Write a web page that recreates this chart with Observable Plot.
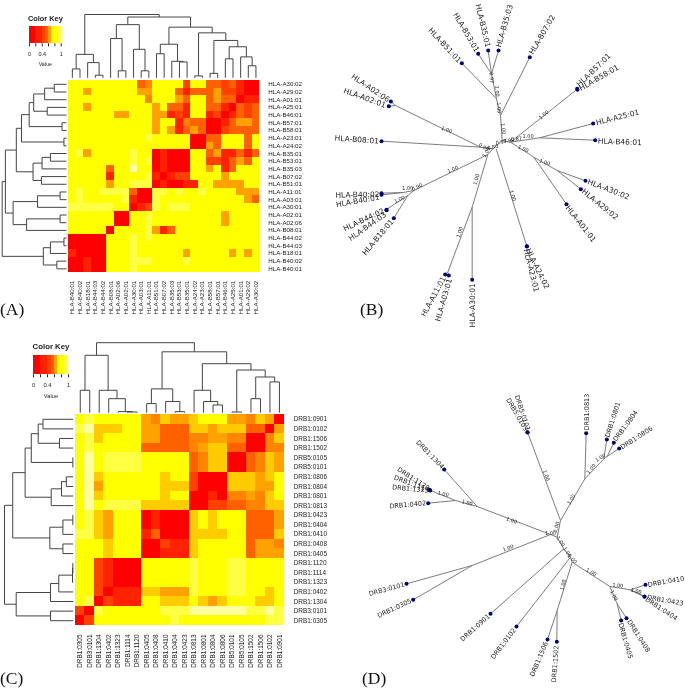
<!DOCTYPE html>
<html><head><meta charset="utf-8">
<script src="https://cdn.jsdelivr.net/npm/d3@7"></script>
<script src="https://cdn.jsdelivr.net/npm/@observablehq/plot@0.6"></script>
<style>
html,body{margin:0;padding:0;background:#fff}
#page{position:relative;width:685px;height:689px;overflow:hidden;filter:blur(.35px)}
#page>*{position:absolute}
#page svg{overflow:visible;background:transparent}
.tag{font-family:"Liberation Serif",serif;font-size:17.5px;color:#111;line-height:20px}
</style></head><body><div id="page"></div>
<script>
// ---------- panel A ----------
const rowsA=["HLA-A30:02","HLA-A29:02","HLA-A01:01","HLA-A25:01","HLA-B46:01","HLA-B57:01","HLA-B58:01","HLA-A23:01","HLA-A24:02","HLA-B35:01","HLA-B53:01","HLA-B35:03","HLA-B07:02","HLA-B51:01","HLA-A11:01","HLA-A03:01","HLA-A30:01","HLA-A02:01","HLA-A02:06","HLA-B08:01","HLA-B44:02","HLA-B44:03","HLA-B18:01","HLA-B40:02","HLA-B40:01"];
const colsA=["HLA-B40:01","HLA-B40:02","HLA-B18:01","HLA-B44:03","HLA-B44:02","HLA-B08:01","HLA-A02:06","HLA-A02:01","HLA-A30:01","HLA-A03:01","HLA-A11:01","HLA-B51:01","HLA-B07:02","HLA-B35:03","HLA-B53:01","HLA-B35:01","HLA-A24:02","HLA-A23:01","HLA-B58:01","HLA-B57:01","HLA-B46:01","HLA-A25:01","HLA-A01:01","HLA-A29:02","HLA-A30:02"];
// each digit is one cell, a step on the colour key's level scale
const matrixA=[
"7777777773477772773323100",
"7757777775577731333522100",
"7777777777477753773533011",
"7757777777757331773310323",
"7777775577755121771201323",
"7777777777757714330013553",
"7777777777757513530023333",
"7777777777877777003377737",
"7777777777777777005377737",
"7857777787701000773511313",
"7777777787801000772213537",
"7777737797701000775713777",
"7777717777810122777757777",
"7777757788801001177555577",
"7877888830088787787777555",
"7877777810087777777777753",
"8888887701287888777777777",
"7777770077877777777757777",
"7777770077877777777757777",
"7777707777851377777777777",
"0000077787877777777777777",
"0000077787777777777777777",
"1000077787777775777775757",
"0010077788877778777777777",
"0010077787777777777777777"];
const topTreeA=[1,[.37,[.14,0,1],[.24,2,[.04,3,4]]],[.96,[.84,[.62,5,[.11,6,7]],[.45,8,[.11,9,10]]],[.8,[.53,[.38,11,12],[.26,13,[.25,14,15]]],[.71,[.03,16,17],[.59,[.07,18,19],[.49,[.3,20,21],[.33,22,[.19,23,24]]]]]]]];
const leftTreeA=[1,[.95,[.78,[.7,[.58,[.51,[.34,[.19,0,1],2],[.3,3,4]],[.07,5,6]],[.04,7,8]],[.52,[.38,[.25,9,10],11],[.39,12,13]]],[.83,[.45,[.1,14,15],16],[.62,[.1,17,18],19]]],[.36,[.25,[.04,20,21],22],[.15,23,24]]];
// ---------- panel C ----------
const rowsC=["DRB1:0901","DRB1:0102","DRB1:1506","DRB1:1502","DRB5:0105","DRB5:0101","DRB1:0806","DRB1:0804","DRB1:0801","DRB1:0813","DRB1:0423","DRB1:0404","DRB1:0410","DRB1:0408","DRB1:0405","DRB1:1120","DRB1:1114","DRB1:1323","DRB1:0402","DRB1:1304","DRB3:0101","DRB1:0305"];
const colsC=["DRB1:0305","DRB3:0101","DRB1:1304","DRB1:0402","DRB1:1323","DRB1:1114","DRB1:1120","DRB1:0405","DRB1:0408","DRB1:0410","DRB1:0404","DRB1:0423","DRB1:0813","DRB1:0801","DRB1:0804","DRB1:0806","DRB5:0101","DRB5:0105","DRB1:1502","DRB1:1506","DRB1:0102","DRB1:0901"];
const matrixC=[
"7877777546556777554650",
"8966677553336656663305",
"7867777553334455440046",
"7877777333334566330044",
"7978888777773466003465",
"7978888777773466003465",
"7967777776772000666567",
"7957777776662000666557",
"7967777776770010445467",
"7978888666660022334466",
"7865777010006767773335",
"7865777010006767773335",
"8865777130006666773336",
"7776777002116777773554",
"7776777001116777773555",
"7721000777778777887777",
"7721000777778777887777",
"7721000777778777887777",
"7720111665558777887767",
"7802111776667656777667",
"2087777778889999998898",
"0277777777877777777788"];
const topTreeC=[1,[.82,[.32,0,1],[.32,2,[.2,3,[.015,4,[.01,5,6]]]]],[.87,[.34,[.13,7,8],[.16,9,[.015,10,11]]],[.7,[.32,12,[.16,13,[.11,14,15]]],[.61,[.01,16,17],[.51,[.2,18,19],[.44,20,21]]]]]];
const leftTreeC=[1,[.88,[.7,[.61,[.51,[.44,0,1],[.2,2,3]],[.005,4,5]],[.32,[.17,[.1,6,7],8],9]],[.34,[.15,[.005,10,11],12],[.15,13,14]]],[.83,[.33,[.21,[.01,[.005,15,16],17],18],19],[.33,20,21]]];
// ---------- colour key ----------
const levelStops=[0,1,2,3,4,5,6,7,8,9];
const levelColors=["#ff0000","#ff2200","#ff4000","#ff6000","#ff8400","#ffa200","#ffcc00","#ffff00","#ffff44","#ffffa0"];
const keyLevels=[0,0,1,1,2,3,5,7,7,8];
const keyTicks=[0,.2,.4,.6,.8,1];
// ---------- unrooted tree B ----------
const nodesB=[["n0",487,445],["n1",515,420],["nR",540,425],["nTop",510,345],["j1",498,295],["j2",483,220],["n2",627,412],["n3",735,270],["n4",610,470],["n5",680,510],["n6",472,462],["n7",425,620],["n8",352,815],["n9",250,570],["n10",450,440],["n11",195,315],["n12",218,576],["n13",232,585],["n14",175,622],["nB",497,445]];
const leavesB=[["HLA-B51:01",394,188,388,183,47,"end"],["HLA-B53:01",443,160,440,153,60,"end"],["HLA-B35:01",473,150,472,140,77,"end"],["HLA-B35:03",504,150,504,140,-74,"start"],["HLA-B07:02",598,170,602,160,-60,"start"],["HLA-B57:01",740,265,742,255,-44,"start"],["HLA-B58:01",741,268,748,265,-30,"start"],["HLA-A25:01",788,369,797,367,-14,"start"],["HLA-B46:01",794,419,802,422,2,"start"],["HLA-A30:02",765,541,772,543,21,"start"],["HLA-A29:02",751,566,757,570,39,"start"],["HLA-A01:01",708,611,710,618,52,"start"],["HLA-A24:02",589,737,592,745,64,"start"],["HLA-A23:01",589,738,586,745,76,"start"],["HLA-A30:01",425,838,427,848,-90,"end"],["HLA-A03:01",355,825,358,835,-74,"end"],["HLA-A11:01",344,822,340,830,-62,"end"],["HLA-B18:01",190,653,185,660,-50,"end"],["HLA-B44:03",168,629,165,640,-35,"end"],["HLA-B44:02",168,628,160,630,-25,"end"],["HLA-B40:01",153,583,147,590,-10,"end"],["HLA-B40:02",153,578,147,582,-1,"end"],["HLA-B08:01",153,422,145,422,4,"end"],["HLA-A02:01",175,317,165,315,20,"end"],["HLA-A02:06",181,303,175,300,34,"end"]];
const edgesB=[["n0","n1"],["n1","nR"],["n1","nTop"],["nTop","j1"],["nTop","HLA-B07:02"],["j1","HLA-B51:01"],["j1","j2"],["j2","HLA-B53:01"],["j2","HLA-B35:01"],["j2","HLA-B35:03"],["nR","n2"],["n2","HLA-A25:01"],["n2","HLA-B46:01"],["nR","n3"],["n3","HLA-B57:01"],["n3","HLA-B58:01"],["nR","n4"],["n4","HLA-A01:01"],["n4","n5"],["n5","HLA-A30:02"],["n5","HLA-A29:02"],["nB","HLA-A24:02"],["n0","n6"],["n6","n7"],["n7","HLA-A30:01"],["n7","n8"],["n8","HLA-A11:01"],["n8","HLA-A03:01"],["n6","n9"],["n9","n12"],["n12","HLA-B40:02"],["n12","HLA-B40:01"],["n9","n13"],["n13","HLA-B18:01"],["n13","n14"],["n14","HLA-B44:02"],["n14","HLA-B44:03"],["n0","n10"],["n10","n11"],["n11","HLA-A02:06"],["n11","HLA-A02:01"],["n10","HLA-B08:01"]];
const supportB=[["1.00",518,385,82],["1.00",500,272,88],["1.00",505,322,85],["0.97",483,232,85],["1.00",640,343,-42],["1.00",593,408,0],["1.00",578,445,25],["1.00",643,485,18],["1.00",547,585,72],["1.00",438,537,-75],["1.00",388,695,-72],["1.00",348,388,20],["1.00",367,507,-25],["1.00",232,563,-2],["0.90",260,560,-25],["1.00",207,597,-25],["0.98",460,440,30],["1.00",468,455,-60],["0.80",487,440,-10],["0.97",512,425,-10],["0.99",535,420,-5],["0.87",558,415,-5]];
// ---------- unrooted tree D ----------
const nodesD=[["nA",510,462],["nC",530,470],["nB",540,420],["nD",550,505],["nE",570,530],["nF",575,545],["nG",530,690],["nH",688,618],["nI",750,628],["nJ",710,670],["nK",613,295],["nL",670,235],["nM",680,228],["nN",290,378],["nO",225,360],["nP",155,332],["nQ",275,555]];
const leavesD=[["DRB5:0105",441,155,437,150,60,"end"],["DRB5:0101",441,156,443,150,72,"end"],["DRB1:0813",617,158,618,150,-90,"start"],["DRB1:0801",679,177,680,170,-72,"start"],["DRB1:0804",700,187,702,180,-53,"start"],["DRB1:0806",716,204,722,202,-33,"start"],["DRB1:1304",191,267,187,262,46,"end"],["DRB1:1120",149,330,145,325,33,"end"],["DRB1:1114",148,329,145,328,20,"end"],["DRB1:1323",147,328,145,330,5,"end"],["DRB1:0402",143,368,137,368,-5,"end"],["DRB3:0101",78,610,72,612,-15,"end"],["DRB1:0305",98,658,92,660,-25,"end"],["DRB1:0901",330,700,325,705,-42,"end"],["DRB1:0102",408,738,402,745,-53,"end"],["DRB1:1506",501,777,497,785,-67,"end"],["DRB1:1502",529,784,528,795,-86,"end"],["DRB1:0405",722,720,720,728,74,"start"],["DRB1:0408",738,713,745,720,58,"start"],["DRB1:0410",795,613,802,613,-10,"start"],["DRB1:0423",792,648,800,650,10,"start"],["DRB1:0404",792,649,796,655,33,"start"]];
const edgesD=[["nA","nC"],["nC","nB"],["nC","nD"],["nD","DRB1:0901"],["nD","nE"],["nE","DRB1:0102"],["nE","nF"],["nF","nG"],["nG","DRB1:1506"],["nG","DRB1:1502"],["nF","nH"],["nH","nI"],["nI","DRB1:0410"],["nI","DRB1:0423"],["nI","DRB1:0404"],["nH","nJ"],["nJ","DRB1:0405"],["nJ","DRB1:0408"],["nB","DRB5:0105"],["nB","nK"],["nK","DRB1:0813"],["nK","nL"],["nL","DRB1:0801"],["nL","nM"],["nM","DRB1:0804"],["nM","DRB1:0806"],["nA","nN"],["nN","DRB1:1304"],["nN","nO"],["nO","DRB1:0402"],["nO","nP"],["nP","DRB1:1120"],["nP","DRB1:1323"],["nA","nQ"],["nQ","DRB3:0101"],["nQ","DRB1:0305"]];
const supportD=[["1.00",497,285,70],["1.00",573,357,-60],["1.00",632,265,-50],["1.00",660,232,-30],["1.00",528,440,-75],["1.00",393,420,20],["1.00",260,367,15],["1.00",188,340,12],["1.00",383,503,-20],["1.00",510,460,0],["1.00",540,483,55],["1.00",560,515,55],["1.00",575,535,45],["1.00",548,613,-75],["1.00",632,575,30],["1.00",712,615,5],["1.00",767,632,15],["1.00",700,645,65]];

const page=document.getElementById("page");
function place(el,left,top){el.style.left=left+"px";el.style.top=top+"px";page.appendChild(el);}
const colorScale={type:"linear",domain:levelStops,range:levelColors,interpolate:"rgb"};
const sans="Liberation Sans, Arial, sans-serif", dv="DejaVu Sans, sans-serif";

function heatmap(rows,cols,matrix,o){
  const cells=[];
  matrix.forEach((r,i)=>[...r].forEach((d,j)=>cells.push({row:rows[i],col:cols[j],level:+d})));
  return Plot.plot({width:o.w+o.mr,height:o.h+o.mb,marginLeft:0,marginTop:0,marginRight:o.mr,marginBottom:o.mb,
    style:{background:"transparent"},
    x:{domain:cols,padding:0,round:false,label:null},y:{domain:rows,padding:0,round:false,label:null},color:colorScale,
    marks:[
      Plot.cell(cells,{x:"col",y:"row",fill:"level",shapeRendering:"crispEdges"}),
      Plot.axisX({anchor:"bottom",tickSize:0,tickPadding:o.pad,tickRotate:-90,fontSize:o.fs,fontFamily:sans,fill:"#222",label:null}),
      Plot.axisY({anchor:"right",tickSize:0,tickPadding:o.pad+.5,fontSize:o.fs,fontFamily:sans,fill:"#222",label:null})
    ]});
}
function treeSegments(tree){
  const segs=[];
  const walk=n=>{
    if(typeof n==="number")return{p:n+.5,h:0};
    const [h,a,b]=n,A=walk(a),B=walk(b);
    segs.push({p1:A.p,h1:A.h,p2:A.p,h2:h},{p1:A.p,h1:h,p2:B.p,h2:h},{p1:B.p,h1:B.h,p2:B.p,h2:h});
    return{p:(A.p+B.p)/2,h};
  };
  walk(tree);return segs;
}
function dendroTop(tree,n,w,h,mt,mb){
  return Plot.plot({width:w,height:h,margin:0,marginTop:mt,marginBottom:mb,style:{background:"transparent"},
    x:{domain:[0,n],axis:null},y:{domain:[0,1],axis:null},
    marks:[Plot.link(treeSegments(tree),{x1:"p1",x2:"p2",y1:"h1",y2:"h2",stroke:"#444",strokeWidth:1})]});
}
function dendroLeft(tree,n,w,h,ml,mr){
  return Plot.plot({width:w,height:h,margin:0,marginLeft:ml,marginRight:mr,style:{background:"transparent"},
    x:{domain:[1,0],axis:null},y:{domain:[0,n],axis:null,reverse:true},
    marks:[Plot.link(treeSegments(tree),{x1:"h1",x2:"h2",y1:"p1",y2:"p2",stroke:"#444",strokeWidth:1})]});
}
function colorKey(o){
  const bins=keyLevels.map((l,i)=>({a:i/keyLevels.length,b:(i+1)/keyLevels.length,l}));
  return Plot.plot({width:o.w+20,height:o.mt+o.h+o.mb,marginLeft:10,marginRight:10,marginTop:o.mt,marginBottom:o.mb,
    style:{background:"transparent"},
    x:{domain:[0,1],label:null},y:{axis:null,domain:[0,1]},color:colorScale,
    marks:[
      Plot.rectY(bins,{x1:"a",x2:"b",y1:0,y2:1,fill:"l",shapeRendering:"crispEdges"}),
      Plot.axisX({ticks:keyTicks,tickSize:3,tickPadding:5.5,fontSize:o.fs,fontFamily:sans,fill:"#222",stroke:"#222",
        tickFormat:d=>(d===0||d===.4||d===1)?String(d):"",label:null}),
      Plot.text(["Color Key"],{frameAnchor:"top",dy:-o.mt+1,fontSize:o.tfs,fontWeight:"bold",fontFamily:sans,fill:"#222"}),
      Plot.text(["Value"],{frameAnchor:"bottom",dy:o.mb-o.vb,fontSize:o.fs,fontFamily:sans,fill:"#222"})
    ]});
}
function unrooted(nodes,leaves,edges,support,o){
  const pos=new Map(nodes.map(([id,x,y])=>[id,[x,y]]));
  leaves.forEach(([id,x,y])=>pos.set(id,[x,y]));
  const links=edges.map(([a,b])=>({x1:pos.get(a)[0],y1:pos.get(a)[1],x2:pos.get(b)[0],y2:pos.get(b)[1]}));
  const L=leaves.map(([name,x,y,tx,ty,rot,anchor])=>({name,x,y,tx,ty,rot,anchor}));
  const S=support.map(([t,x,y,rot])=>({t,x,y,rot}));
  const label=anchor=>Plot.text(L.filter(d=>d.anchor===anchor),{x:"tx",y:"ty",text:"name",rotate:"rot",textAnchor:anchor,fontSize:o.fs,fontFamily:dv,fill:"#222"});
  return Plot.plot({width:o.w,height:o.h,margin:0,style:{background:"transparent"},
    x:{domain:o.xd,axis:null},y:{domain:o.yd,axis:null},
    marks:[
      Plot.link(links,{x1:"x1",y1:"y1",x2:"x2",y2:"y2",stroke:"#6e6e6e",strokeWidth:.9}),
      Plot.dot(L,{x:"x",y:"y",r:2,fill:"#00007a"}),
      label("start"),label("end"),
      Plot.text(S,{x:"x",y:"y",text:"t",rotate:"rot",fontSize:o.sfs,fontFamily:dv,fill:"#222"})
    ]});
}
// panel A
place(dendroTop(topTreeA,25,191.3,65,1,.7),68,13);
place(dendroLeft(leftTreeA,25,67,192.2,1.67,1),0,79.5);
place(heatmap(rowsA,colsA,matrixA,{w:191.3,h:192.2,mr:52,mb:45,fs:6.2,pad:8}),68,79.5);
place(colorKey({w:31.7,h:17.3,mt:12,mb:28,fs:5.4,tfs:7.4,vb:6}),19,14);
// panel C
place(dendroTop(topTreeC,22,208.7,72,1.2,.8),75.3,340.5);
place(dendroLeft(leftTreeC,22,74,211,4,1.3),0,414);
place(heatmap(rowsC,colsC,matrixC,{w:208.7,h:211,mr:50,mb:45,fs:6.45,pad:9}),75.3,414);
place(colorKey({w:35,h:19.3,mt:13,mb:28,fs:5.8,tfs:7.8,vb:5}),22.7,342);
// trees
place(unrooted(nodesB,leavesB,edgesB,supportB,{w:355,h:330,xd:[0,1065],yd:[990,0],fs:7.5,sfs:5}),330,0);
place(unrooted(nodesD,leavesD,edgesD,supportD,{w:345,h:309,xd:[-120,915],yd:[927,0],fs:6.5,sfs:5}),340,380);
// letters
for(const [t,l,tp] of [["(A)",0,299],["(B)",360,299],["(C)",0,668],["(D)",362,668]]){
  const d=document.createElement("div");d.className="tag";d.textContent=t;place(d,l,tp);
}
</script></body></html>
